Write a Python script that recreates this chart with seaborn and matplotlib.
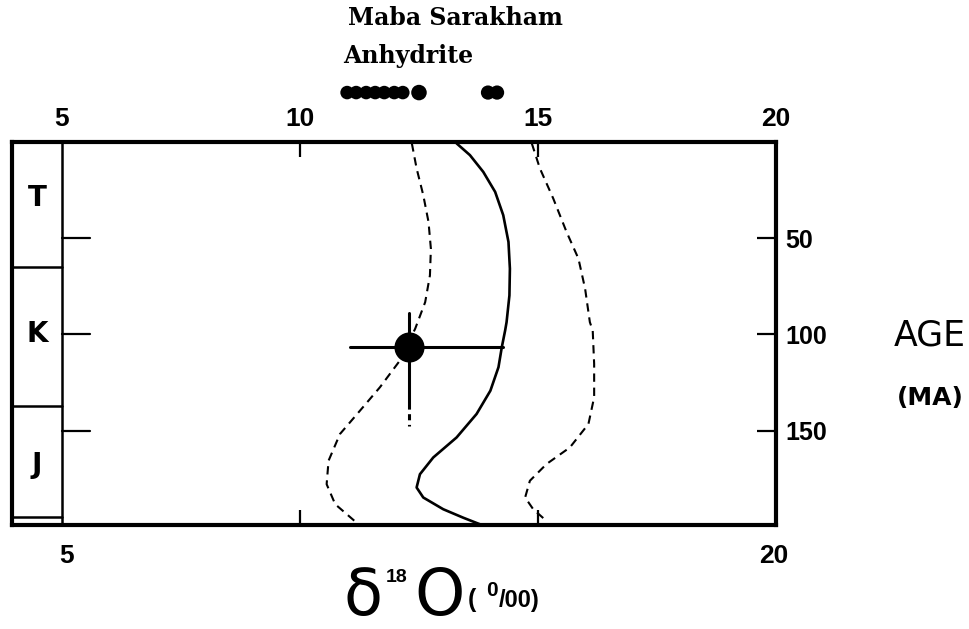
import numpy as np
import pandas as pd
import matplotlib
matplotlib.use("Agg")
import matplotlib.pyplot as plt
import seaborn as sns

# --- data (delta 18O in permil vs age in Ma) ---
mean_age = [0.7, 6.8, 15.5, 25.9, 38, 51.9, 65.8, 79.7, 93.6, 97.9, 106.6, 117,
            129.2, 141.3, 153.5, 163.9, 172.6, 179.5, 184.7, 190.8, 195.2, 198.6]
mean_d18o = [13.29, 13.57, 13.85, 14.10, 14.27, 14.38, 14.41, 14.40, 14.34, 14.31,
             14.24, 14.17, 14.00, 13.71, 13.29, 12.80, 12.52, 12.45, 12.59, 13.01,
             13.43, 13.78]

low_age = [0.7, 13.7, 27.6, 41.5, 55.4, 69.3, 83.2, 97, 113.5, 127.4, 139.6,
           151.7, 165.6, 177.8, 188.2, 197.8]
low_d18o = [12.35, 12.45, 12.59, 12.70, 12.75, 12.73, 12.63, 12.42, 12.10, 11.68,
            11.26, 10.84, 10.60, 10.56, 10.74, 11.19]

high_age = [0.7, 13.7, 29.3, 46.7, 60.6, 76.2, 93.6, 97.9, 115.3, 132.6, 146.5,
            158.7, 167.3, 176, 184.7, 190.8, 196.9]
high_d18o = [14.87, 15.04, 15.32, 15.60, 15.85, 15.99, 16.09, 16.15, 16.18, 16.18,
             16.06, 15.67, 15.18, 14.83, 14.73, 14.90, 15.18]

# single sample with error bars
pt_d18o = 12.28
pt_age = 106.6
pt_d18o_lo, pt_d18o_hi = 11.05, 14.27
pt_age_top, pt_age_mid, pt_age_bot = 88.6, 135.8, 147.4

# Maha Sarakham anhydrite values (plotted above the frame)
anhydrite = [10.99, 11.18, 11.39, 11.58, 11.77, 11.98, 12.16, 12.50, 13.95, 14.14]
anhydrite_row = -25.7

# geological periods
periods = ["T", "K", "J"]
period_bounds = [0, 65, 137, 195]
period_label_age = [29, 100, 168]

age_ticks = [50, 100, 150]
x_ticks = [5, 10, 15, 20]

XMIN, XMAX = 3.95, 20
YMAX = 199

sns.set_theme(style="white")
plt.rcParams["font.family"] = ["Liberation Sans", "DejaVu Sans"]
plt.rcParams["text.color"] = "black"
plt.rcParams["xtick.color"] = "black"
plt.rcParams["ytick.color"] = "black"

fig = plt.figure(figsize=(9.69, 6.29), dpi=100)
ax = fig.add_axes([0.0124, 0.1653, 0.7884, 0.6089])

mean_df = pd.DataFrame({"d18o": mean_d18o, "age": mean_age})
low_df = pd.DataFrame({"d18o": low_d18o, "age": low_age})
high_df = pd.DataFrame({"d18o": high_d18o, "age": high_age})

sns.lineplot(data=mean_df, x="d18o", y="age", sort=False, estimator=None,
             color="black", linewidth=1.9, ax=ax)
for df in (low_df, high_df):
    sns.lineplot(data=df, x="d18o", y="age", sort=False, estimator=None,
                 color="black", linewidth=1.5, dashes=(4, 2.8), ax=ax)

# sample point with bars
ax.plot([pt_d18o_lo, pt_d18o_hi], [pt_age, pt_age], color="black", lw=2.2)
ax.plot([pt_d18o, pt_d18o], [pt_age_top, pt_age_mid], color="black", lw=2.2)
ax.plot([pt_d18o, pt_d18o], [pt_age_mid, pt_age_bot], color="black", lw=2.2,
        dashes=(2, 1.5))
ax.scatter([pt_d18o], [pt_age], s=470, color="black", zorder=5, linewidths=0)

# anhydrite dots above the frame
sizes = [95] * 7 + [125, 105, 105]
ax.scatter(anhydrite, [anhydrite_row] * len(anhydrite), s=sizes, color="black",
           clip_on=False, zorder=5, linewidths=0)

# period column
ax.axvline(5, color="black", lw=1.8)
for b in period_bounds[1:]:
    ax.plot([XMIN, 5], [b, b], color="black", lw=1.8)
for name, a in zip(periods, period_label_age):
    ax.text((XMIN + 5) / 2, a, name, ha="center", va="center", fontsize=20,
            fontweight="bold", family=["DejaVu Sans"])

# inner ticks from the period column
for t in age_ticks:
    ax.plot([5, 5.58], [t, t], color="black", lw=1.6)

ax.set_xlim(XMIN, XMAX)
ax.set_ylim(YMAX, 0)
for s in ax.spines.values():
    s.set_linewidth(3)
    s.set_color("black")

ax.set_xlabel("")
ax.set_ylabel("")
ax.set_xticks([10, 15])
ax.set_xticklabels([])
ax.tick_params(axis="x", which="both", direction="in", length=11, width=1.6,
               top=True, bottom=True, labelbottom=False)
ax.yaxis.tick_right()
ax.set_yticks(age_ticks)
ax.set_yticklabels([str(t) for t in age_ticks])
ax.tick_params(axis="y", direction="in", length=14, width=1.6, pad=7,
               labelsize=18, left=False, right=True)
for lab in ax.get_yticklabels():
    lab.set_fontweight("bold")

# top labels 5 10 15 20
for t in x_ticks:
    ax.text(t, -12, str(t), ha="center", va="center", fontsize=19,
            fontweight="bold")
# bottom labels 5 and 20
ax.text(5.1, YMAX + 16, "5", ha="center", va="center", fontsize=19,
        fontweight="bold")
ax.text(19.95, YMAX + 16, "20", ha="center", va="center", fontsize=19,
        fontweight="bold")

# anhydrite labels
fig.text(455 / 969, 1 - 18 / 629, "Maba Sarakham", ha="center", va="center",
         fontsize=17, fontweight="bold", family=["DejaVu Serif"])
fig.text(343 / 969, 1 - 56 / 629, "Anhydrite", ha="left", va="center",
         fontsize=17, fontweight="bold", family=["DejaVu Serif"])

# age axis label
fig.text(930 / 969, 1 - 335 / 629, "AGE", ha="center", va="center",
         fontsize=25, family=["DejaVu Sans"])
fig.text(930 / 969, 1 - 398 / 629, "(MA)", ha="center", va="center",
         fontsize=18, fontweight="bold", family=["DejaVu Sans"])

# delta 18O axis label
fig.text(363 / 969, 1 - 597 / 629, "δ", ha="center", va="center",
         fontsize=46, family=["DejaVu Sans"])
fig.text(397 / 969, 1 - 578 / 629, "18", ha="center", va="center",
         fontsize=14, fontweight="bold")
fig.text(440 / 969, 1 - 597 / 629, "O", ha="center", va="center",
         fontsize=46, family=["DejaVu Sans"])
fig.text(468 / 969, 1 - 600 / 629, "(", ha="left", va="center", fontsize=18,
         fontweight="bold")
fig.text(492 / 969, 1 - 590 / 629, "0", ha="center", va="center", fontsize=15,
         fontweight="bold")
fig.text(499 / 969, 1 - 600 / 629, "/00)", ha="left", va="center",
         fontsize=17, fontweight="bold")

fig.savefig("out.png", dpi=100)
